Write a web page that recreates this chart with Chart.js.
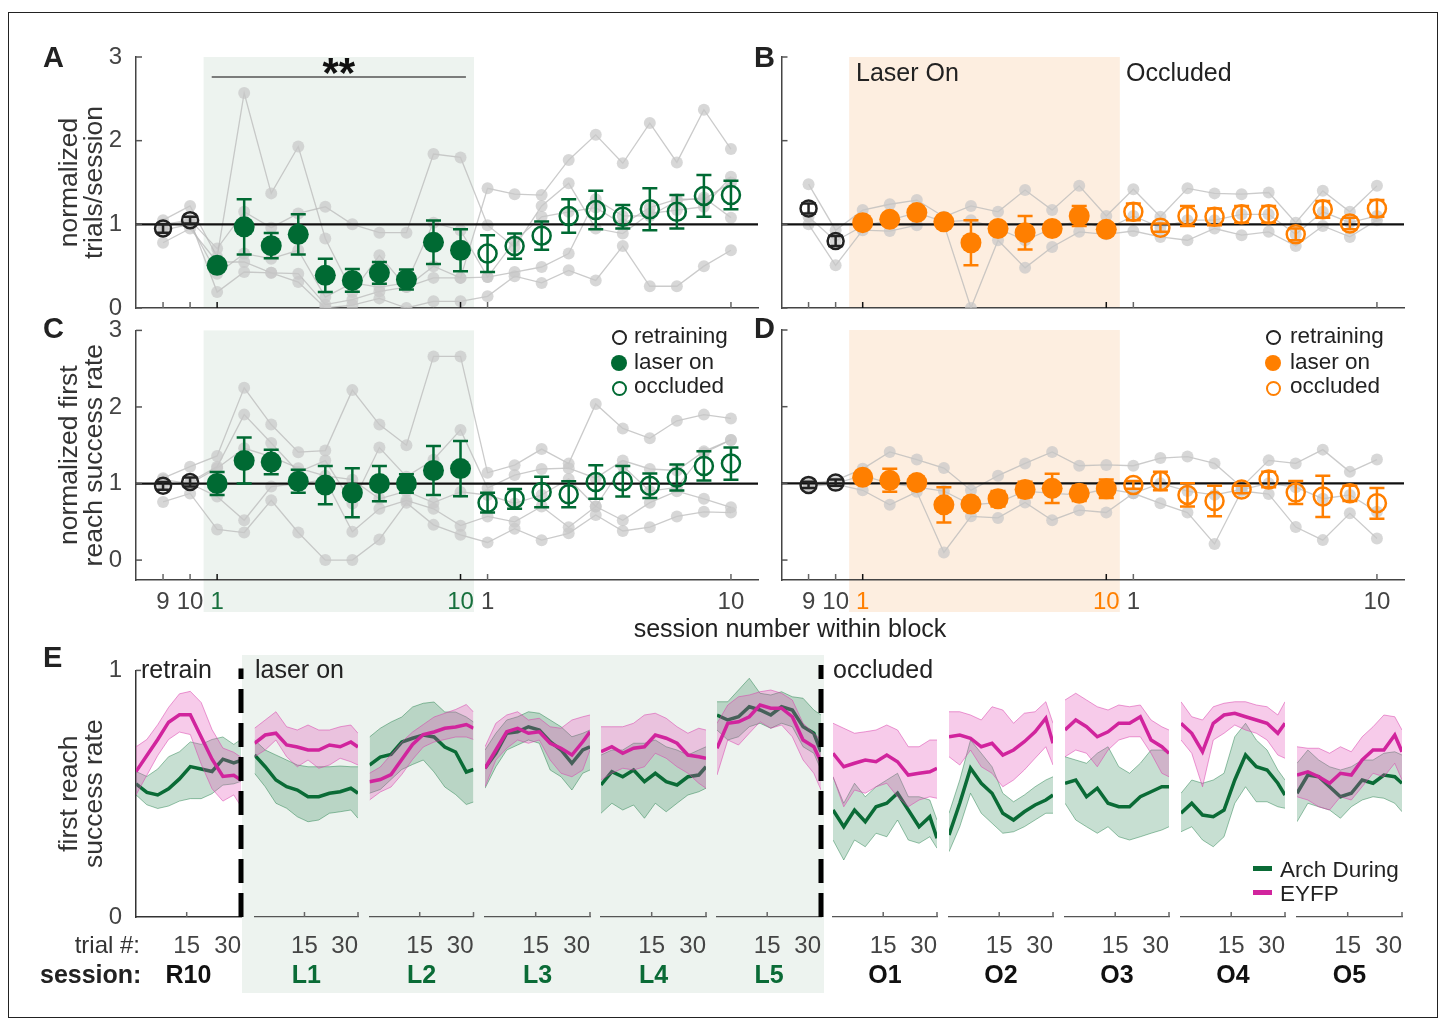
<!DOCTYPE html>
<html><head><meta charset="utf-8">
<script src="https://cdn.jsdelivr.net/npm/chart.js@4.4.1/dist/chart.umd.min.js"></script>
<style>
body{margin:0;background:#fff;width:1444px;height:1021px;overflow:hidden;position:relative;font-family:'Liberation Sans',Arial,Helvetica,sans-serif;}
canvas{position:absolute;}
.t{position:absolute;white-space:nowrap;line-height:1;color:#222;}
.b{font-weight:bold;}
.dot{position:absolute;border-radius:50%;}
</style></head><body>
<div style="position:absolute;left:8px;top:12px;width:1430px;height:1006px;border:1px solid #222;box-sizing:border-box"></div>
<div style="position:absolute;left:242px;top:655px;width:582px;height:338px;background:#edf3ef"></div>

<canvas id="cA"></canvas><canvas id="cB"></canvas><canvas id="cC"></canvas><canvas id="cD"></canvas>
<canvas id="e0"></canvas><canvas id="e1"></canvas><canvas id="e2"></canvas><canvas id="e3"></canvas>
<canvas id="e4"></canvas><canvas id="e5"></canvas><canvas id="e6"></canvas><canvas id="e7"></canvas>
<canvas id="e8"></canvas><canvas id="e9"></canvas><canvas id="e10"></canvas>

<div class="t b" style="left:43px;top:43px;font-size:29px">A</div>
<div class="t b" style="left:754px;top:43px;font-size:29px">B</div>
<div class="t b" style="left:43px;top:314px;font-size:29px">C</div>
<div class="t b" style="left:754px;top:314px;font-size:29px">D</div>
<div class="t b" style="left:43px;top:643px;font-size:29px">E</div>

<div class="t" style="left:856px;top:60px;font-size:25px">Laser On</div>
<div class="t" style="left:1126px;top:60px;font-size:25px">Occluded</div>
<div class="t" style="left:790px;top:616px;font-size:25px;transform:translateX(-50%)">session number within block</div>

<span class="dot" style="left:612px;top:330px;width:11px;height:11px;border:2px solid #222"></span>
<span class="dot" style="left:611px;top:355px;width:16px;height:16px;background:#006a33"></span>
<span class="dot" style="left:612px;top:381px;width:11px;height:11px;border:2px solid #006a33"></span>
<div class="t" style="left:634px;top:325px;font-size:22.5px">retraining</div>
<div class="t" style="left:634px;top:351px;font-size:22.5px">laser on</div>
<div class="t" style="left:634px;top:375px;font-size:22.5px">occluded</div>

<span class="dot" style="left:1266px;top:330px;width:11px;height:11px;border:2px solid #222"></span>
<span class="dot" style="left:1265px;top:355px;width:16px;height:16px;background:#ff7f00"></span>
<span class="dot" style="left:1266px;top:381px;width:11px;height:11px;border:2px solid #ff7f00"></span>
<div class="t" style="left:1290px;top:325px;font-size:22.5px">retraining</div>
<div class="t" style="left:1290px;top:351px;font-size:22.5px">laser on</div>
<div class="t" style="left:1290px;top:375px;font-size:22.5px">occluded</div>

<div class="t" style="left:141px;top:657px;font-size:25px">retrain</div>
<div class="t" style="left:255px;top:657px;font-size:25px">laser on</div>
<div class="t" style="left:833px;top:657px;font-size:25px">occluded</div>
<div class="t" style="right:1304px;top:933px;font-size:24px;color:#333">trial #:</div>
<div class="t b" style="left:40px;top:962px;font-size:25px">session:</div>

<div style="position:absolute;left:1253px;top:866px;width:19px;height:4.5px;background:#0a6b36"></div>
<div style="position:absolute;left:1253px;top:890px;width:19px;height:4.5px;background:#d1249d"></div>
<div class="t" style="left:1280px;top:859px;font-size:22.5px">Arch During</div>
<div class="t" style="left:1280px;top:883px;font-size:22.5px">EYFP</div>
<div id="err" class="t" style="left:300px;top:760px;font-size:14px;color:red;white-space:pre"></div>

<script>
// ---------------- DATA ----------------
const retrainPos = [0, 1];
const laserPos = [2, 3, 4, 5, 6, 7, 8, 9, 10, 11];
const occPos = [12, 13, 14, 15, 16, 17, 18, 19, 20, 21];
const allPos = retrainPos.concat(laserPos, occPos);
const xTickPos = [0, 1, 2, 11, 12, 21];
const xTickLabels = ['9', '10', '1', '10', '1', '10'];
const yTickVals = [0, 1, 2, 3];

// Panel A: normalized trials/session (Arch)
const A_retrain = [0.95, 1.05];
const A_retrainErr = [0.05, 0.04];
const A_laser = [0.51, 0.97, 0.745, 0.88, 0.39, 0.33, 0.42, 0.34, 0.785, 0.69];
const A_laserErr = [0.05, 0.33, 0.15, 0.24, 0.2, 0.135, 0.13, 0.12, 0.26, 0.25];
const A_occ = [0.65, 0.74, 0.865, 1.10, 1.17, 1.09, 1.18, 1.15, 1.34, 1.35];
const A_occErr = [0.22, 0.15, 0.17, 0.2, 0.23, 0.14, 0.25, 0.2, 0.25, 0.17];
const A_animal1 = [1.05, 1.22, 0.61, 2.57, 1.37, 1.93, 0.83, 0.19, 0.63, 0.25, 0.50, 0.36, 1.43, 1.36, 1.35, 1.77, 2.07, 1.73, 2.21, 1.74, 2.37, 1.90];
const A_animal2 = [0.97, 1.05, 0.71, 1.15, 0.96, 1.13, 1.21, 1.00, 0.90, 0.90, 1.84, 1.80, 0.99, 0.73, 1.22, 1.49, 0.95, 0.89, 1.13, 1.17, 1.21, 1.57];
const A_animal3 = [0.93, 1.00, 0.41, 0.65, 0.59, 0.69, 0.13, 0.30, 0.25, 0.30, 1.02, 0.93, 0.37, 0.80, 1.09, 1.15, 1.20, 1.00, 1.20, 1.30, 1.30, 1.50];
const A_animal4 = [0.78, 0.95, 0.55, 0.55, 0.42, 0.41, 0.04, 0.10, 0.20, 0.25, 0.36, 0.36, 0.37, 0.43, 0.49, 0.65, 1.30, 1.10, 1.10, 1.28, 1.32, 1.08];
const A_animal5 = [1.00, 1.05, 0.19, 0.43, 0.42, 0.31, 0.00, 0.035, 0.115, 0.00, 0.08, 0.08, 0.14, 0.38, 0.30, 0.45, 0.33, 0.74, 0.26, 0.26, 0.50, 0.69];

// Panel B: normalized trials/session (EYFP)
const B_retrain = [1.19, 0.80];
const B_retrainErr = [0.06, 0.06];
const B_laser = [1.02, 1.06, 1.14, 1.03, 0.78, 0.95, 0.90, 0.95, 1.10, 0.94];
const B_laserErr = [0.03, 0.03, 0.03, 0.03, 0.27, 0.04, 0.2, 0.05, 0.12, 0.04];
const B_occ = [1.15, 0.96, 1.10, 1.09, 1.12, 1.12, 0.88, 1.18, 1.01, 1.19];
const B_occErr = [0.1, 0.05, 0.12, 0.1, 0.1, 0.1, 0.07, 0.1, 0.07, 0.1];
const B_animal1 = [1.48, 0.93, 1.17, 1.24, 1.29, 1.09, 1.22, 1.15, 1.41, 1.17, 1.46, 1.10, 1.42, 1.09, 1.43, 1.37, 1.36, 1.38, 1.02, 1.40, 1.15, 1.46];
const B_animal2 = [1.09, 0.80, 0.98, 1.05, 1.14, 1.03, 1.05, 0.95, 0.81, 0.95, 1.05, 0.94, 1.10, 0.96, 1.05, 1.05, 1.12, 1.12, 0.88, 1.15, 1.02, 1.10];
const B_animal3 = [1.00, 0.51, 0.93, 0.92, 0.99, 1.00, 0.00, 0.81, 0.48, 0.73, 0.91, 0.88, 0.92, 0.85, 0.81, 0.95, 0.87, 0.91, 0.74, 0.98, 0.85, 1.05];

// Panel C: normalized first reach success rate (Arch)
const C_retrain = [0.97, 1.02];
const C_retrainErr = [0.05, 0.06];
const C_laser = [1.0, 1.30, 1.28, 1.03, 0.98, 0.88, 1.0, 1.0, 1.17, 1.195];
const C_laserErr = [0.15, 0.3, 0.16, 0.15, 0.25, 0.32, 0.23, 0.12, 0.32, 0.36];
const C_occ = [0.75, 0.80, 0.89, 0.86, 1.02, 1.03, 0.97, 1.08, 1.23, 1.26];
const C_occErr = [0.13, 0.13, 0.2, 0.17, 0.22, 0.2, 0.16, 0.17, 0.19, 0.21];
const C_animal1 = [1.07, 1.22, 1.36, 2.25, 1.77, 1.41, 1.43, 2.22, 1.77, 1.50, 2.66, 2.66, 1.14, 1.24, 1.45, 1.26, 2.04, 1.72, 1.59, 1.82, 1.90, 1.85];
const C_animal2 = [0.97, 1.02, 1.22, 1.90, 1.53, 1.15, 1.30, 0.74, 1.47, 1.09, 1.31, 1.70, 0.94, 1.11, 1.19, 1.20, 1.07, 1.30, 1.19, 1.17, 1.42, 1.57];
const C_animal3 = [1.05, 1.00, 1.20, 1.46, 1.35, 1.20, 1.10, 1.05, 0.80, 0.90, 0.75, 0.89, 0.85, 0.74, 0.85, 1.06, 0.70, 1.23, 0.90, 0.95, 1.40, 1.57];
const C_animal4 = [1.00, 1.00, 0.83, 0.52, 0.96, 1.00, 1.05, 0.37, 0.67, 0.78, 0.67, 0.45, 0.57, 0.50, 0.70, 0.43, 0.70, 0.52, 0.75, 0.90, 0.80, 0.69];
const C_animal5 = [0.76, 0.87, 0.40, 0.36, 0.78, 0.36, 0.00, 0.00, 0.27, 0.75, 0.46, 0.33, 0.23, 0.41, 0.26, 0.35, 0.59, 0.38, 0.43, 0.57, 0.63, 0.62];

// Panel D: normalized first reach success rate (EYFP)
const D_retrain = [0.98, 1.01];
const D_retrainErr = [0.04, 0.04];
const D_laser = [1.08, 1.04, 1.01, 0.72, 0.73, 0.80, 0.92, 0.935, 0.87, 0.93];
const D_laserErr = [0.04, 0.15, 0.08, 0.23, 0.08, 0.1, 0.1, 0.19, 0.1, 0.12];
const D_occ = [0.98, 1.03, 0.85, 0.77, 0.92, 1.05, 0.88, 0.83, 0.87, 0.74];
const D_occErr = [0.05, 0.12, 0.15, 0.2, 0.05, 0.1, 0.15, 0.27, 0.1, 0.2];
const D_animal1 = [1.00, 1.04, 1.19, 1.41, 1.31, 1.20, 0.91, 1.10, 1.26, 1.41, 1.23, 1.24, 1.23, 1.33, 1.35, 1.26, 0.95, 1.30, 1.26, 1.44, 1.15, 1.31];
const D_animal2 = [0.98, 1.00, 1.10, 1.00, 0.95, 0.90, 0.72, 0.75, 0.90, 0.87, 0.85, 0.93, 0.87, 1.00, 0.90, 0.85, 0.92, 1.00, 0.95, 0.80, 0.85, 0.63];
const D_animal3 = [0.96, 0.99, 0.91, 0.72, 0.89, 0.10, 0.57, 0.55, 0.75, 0.52, 0.65, 0.62, 0.87, 0.74, 0.62, 0.21, 0.90, 0.86, 0.43, 0.26, 0.61, 0.28];

// Panel E: first reach success rate within session
const sessions = ['R10', 'L1', 'L2', 'L3', 'L4', 'L5', 'O1', 'O2', 'O3', 'O4', 'O5'];
const trialPos = [1, 4, 7, 10, 13, 16, 19, 22, 25, 28, 30];
const eTickVals = [1, 15, 30];
const eTickLabels = ['', '15', '30'];
const archMean = [
 [0.54, 0.505, 0.495, 0.52, 0.56, 0.61, 0.60, 0.59, 0.64, 0.625, 0.635],
 [0.648, 0.601, 0.548, 0.521, 0.508, 0.481, 0.481, 0.495, 0.501, 0.515, 0.495],
 [0.608, 0.64, 0.65, 0.70, 0.715, 0.728, 0.72, 0.68, 0.66, 0.58, 0.59],
 [0.595, 0.655, 0.735, 0.741, 0.761, 0.748, 0.701, 0.668, 0.615, 0.668, 0.681],
 [0.528, 0.581, 0.561, 0.588, 0.541, 0.575, 0.541, 0.528, 0.561, 0.568, 0.601],
 [0.808, 0.788, 0.801, 0.841, 0.828, 0.808, 0.841, 0.828, 0.761, 0.735, 0.661],
 [0.428, 0.361, 0.428, 0.381, 0.441, 0.455, 0.495, 0.428, 0.361, 0.401, 0.315],
 [0.328, 0.455, 0.595, 0.535, 0.495, 0.415, 0.388, 0.421, 0.448, 0.468, 0.488],
 [0.535, 0.548, 0.481, 0.515, 0.455, 0.441, 0.441, 0.481, 0.501, 0.521, 0.521],
 [0.415, 0.455, 0.408, 0.401, 0.428, 0.548, 0.648, 0.601, 0.588, 0.535, 0.488],
 [0.495, 0.568, 0.561, 0.521, 0.481, 0.495, 0.548, 0.535, 0.568, 0.561, 0.535]
];
const archHi = [
 [0.59, 0.57, 0.60, 0.65, 0.67, 0.71, 0.70, 0.72, 0.73, 0.70, 0.72],
 [0.708, 0.668, 0.648, 0.628, 0.608, 0.601, 0.601, 0.601, 0.604, 0.601, 0.601],
 [0.72, 0.755, 0.78, 0.80, 0.84, 0.855, 0.86, 0.82, 0.82, 0.80, 0.78],
 [0.668, 0.735, 0.788, 0.801, 0.821, 0.815, 0.788, 0.761, 0.721, 0.735, 0.748],
 [0.648, 0.668, 0.668, 0.695, 0.695, 0.708, 0.681, 0.668, 0.648, 0.668, 0.681],
 [0.861, 0.861, 0.908, 0.955, 0.895, 0.888, 0.901, 0.881, 0.875, 0.828, 0.808],
 [0.561, 0.455, 0.535, 0.481, 0.521, 0.548, 0.575, 0.481, 0.481, 0.468, 0.388],
 [0.415, 0.548, 0.708, 0.655, 0.601, 0.495, 0.461, 0.488, 0.521, 0.548, 0.561],
 [0.641, 0.628, 0.615, 0.655, 0.681, 0.601, 0.575, 0.615, 0.668, 0.668, 0.655],
 [0.495, 0.548, 0.535, 0.548, 0.575, 0.721, 0.775, 0.708, 0.668, 0.588, 0.548],
 [0.615, 0.668, 0.628, 0.601, 0.588, 0.601, 0.628, 0.628, 0.655, 0.661, 0.648]
];
const archLo = [
 [0.495, 0.455, 0.44, 0.45, 0.47, 0.48, 0.48, 0.50, 0.535, 0.54, 0.55],
 [0.575, 0.521, 0.455, 0.435, 0.401, 0.381, 0.388, 0.415, 0.421, 0.428, 0.395],
 [0.495, 0.51, 0.55, 0.59, 0.61, 0.628, 0.58, 0.52, 0.49, 0.45, 0.46],
 [0.515, 0.601, 0.668, 0.688, 0.708, 0.695, 0.588, 0.561, 0.508, 0.575, 0.588],
 [0.415, 0.455, 0.428, 0.448, 0.395, 0.455, 0.421, 0.455, 0.488, 0.501, 0.515],
 [0.748, 0.708, 0.721, 0.761, 0.775, 0.755, 0.775, 0.761, 0.681, 0.655, 0.588],
 [0.308, 0.228, 0.308, 0.281, 0.335, 0.321, 0.388, 0.308, 0.295, 0.321, 0.275],
 [0.261, 0.361, 0.495, 0.415, 0.375, 0.335, 0.341, 0.361, 0.388, 0.415, 0.415],
 [0.455, 0.388, 0.361, 0.335, 0.361, 0.321, 0.308, 0.321, 0.335, 0.348, 0.361],
 [0.341, 0.361, 0.308, 0.281, 0.321, 0.455, 0.521, 0.461, 0.461, 0.441, 0.435],
 [0.381, 0.455, 0.441, 0.428, 0.395, 0.441, 0.468, 0.481, 0.475, 0.455, 0.421]
];
const eyfpMean = [
 [0.59, 0.655, 0.72, 0.79, 0.82, 0.82, 0.73, 0.64, 0.57, 0.575, 0.555],
 [0.695, 0.728, 0.735, 0.688, 0.68, 0.668, 0.668, 0.688, 0.681, 0.70, 0.68],
 [0.541, 0.55, 0.57, 0.63, 0.69, 0.73, 0.74, 0.755, 0.76, 0.77, 0.755],
 [0.595, 0.668, 0.741, 0.755, 0.735, 0.741, 0.695, 0.675, 0.648, 0.701, 0.741],
 [0.661, 0.681, 0.655, 0.675, 0.681, 0.728, 0.715, 0.695, 0.648, 0.641, 0.635],
 [0.675, 0.775, 0.781, 0.801, 0.848, 0.835, 0.835, 0.801, 0.708, 0.681, 0.621],
 [0.655, 0.601, 0.615, 0.628, 0.621, 0.648, 0.621, 0.568, 0.575, 0.581, 0.595],
 [0.721, 0.728, 0.715, 0.681, 0.695, 0.648, 0.668, 0.701, 0.741, 0.795, 0.695],
 [0.748, 0.788, 0.761, 0.721, 0.741, 0.775, 0.775, 0.801, 0.708, 0.681, 0.655],
 [0.775, 0.735, 0.661, 0.775, 0.808, 0.815, 0.801, 0.788, 0.775, 0.735, 0.775],
 [0.568, 0.581, 0.561, 0.535, 0.575, 0.568, 0.628, 0.668, 0.668, 0.728, 0.661]
];
const eyfpHi = [
 [0.69, 0.72, 0.78, 0.85, 0.905, 0.915, 0.87, 0.76, 0.685, 0.668, 0.648],
 [0.755, 0.788, 0.821, 0.761, 0.748, 0.768, 0.748, 0.748, 0.761, 0.768, 0.735],
 [0.575, 0.60, 0.65, 0.70, 0.74, 0.77, 0.80, 0.815, 0.83, 0.85, 0.82],
 [0.681, 0.775, 0.808, 0.821, 0.788, 0.795, 0.761, 0.755, 0.788, 0.801, 0.808],
 [0.761, 0.761, 0.761, 0.775, 0.808, 0.815, 0.795, 0.761, 0.735, 0.755, 0.748],
 [0.775, 0.848, 0.881, 0.888, 0.901, 0.908, 0.895, 0.868, 0.775, 0.735, 0.708],
 [0.775, 0.755, 0.735, 0.741, 0.748, 0.768, 0.748, 0.681, 0.681, 0.708, 0.708],
 [0.821, 0.821, 0.808, 0.788, 0.841, 0.828, 0.775, 0.815, 0.821, 0.861, 0.775],
 [0.868, 0.895, 0.868, 0.841, 0.828, 0.848, 0.841, 0.848, 0.788, 0.761, 0.748],
 [0.861, 0.801, 0.788, 0.841, 0.855, 0.861, 0.861, 0.848, 0.841, 0.808, 0.861],
 [0.681, 0.675, 0.675, 0.655, 0.681, 0.661, 0.721, 0.761, 0.808, 0.801, 0.748]
];
const eyfpLo = [
 [0.495, 0.575, 0.655, 0.72, 0.75, 0.74, 0.62, 0.52, 0.47, 0.495, 0.448],
 [0.641, 0.668, 0.708, 0.641, 0.601, 0.628, 0.595, 0.608, 0.635, 0.621, 0.608],
 [0.468, 0.50, 0.52, 0.57, 0.63, 0.68, 0.70, 0.71, 0.72, 0.72, 0.71],
 [0.521, 0.628, 0.675, 0.708, 0.695, 0.708, 0.628, 0.575, 0.561, 0.588, 0.668],
 [0.548, 0.575, 0.595, 0.588, 0.601, 0.655, 0.635, 0.601, 0.575, 0.535, 0.515],
 [0.568, 0.708, 0.688, 0.735, 0.781, 0.755, 0.768, 0.721, 0.628, 0.575, 0.508],
 [0.561, 0.441, 0.508, 0.495, 0.521, 0.535, 0.481, 0.441, 0.468, 0.481, 0.475],
 [0.641, 0.608, 0.668, 0.601, 0.575, 0.521, 0.548, 0.588, 0.635, 0.681, 0.608],
 [0.641, 0.668, 0.655, 0.601, 0.668, 0.708, 0.721, 0.721, 0.655, 0.575, 0.561],
 [0.708, 0.655, 0.521, 0.708, 0.735, 0.768, 0.748, 0.735, 0.708, 0.648, 0.635],
 [0.481, 0.468, 0.441, 0.428, 0.481, 0.468, 0.521, 0.575, 0.561, 0.615, 0.548]
];

// ---------------- STYLE / LAYOUT ----------------
const FONT = "'Liberation Sans', Arial, Helvetica, sans-serif";
const GREEN = '#006a33', ORANGE = '#ff7f00';
Chart.defaults.font.family = FONT;
Chart.defaults.color = '#333';

const decor = {
  id: 'decor',
  beforeDraw(chart, args, o) {
    if (!o || !o.shade) return;
    const {ctx, chartArea: ca, scales} = chart;
    const x0 = scales.x.getPixelForValue(o.shade.from), x1 = scales.x.getPixelForValue(o.shade.to);
    ctx.save(); ctx.fillStyle = o.shade.color;
    ctx.fillRect(x0, ca.top, x1 - x0, ca.bottom - ca.top + (o.shade.below || 0));
    ctx.restore();
  },
  beforeDatasetDraw(chart, args) {
    const ds = chart.data.datasets[args.index];
    if (!ds.errs) return;
    const {ctx, scales: {x, y}} = chart;
    ctx.save(); ctx.strokeStyle = ds.errColor; ctx.lineWidth = 2.5;
    ds.data.forEach((p, i) => {
      const e = ds.errs[i], px = x.getPixelForValue(p.x);
      const yt = y.getPixelForValue(p.y + e), yb = y.getPixelForValue(p.y - e);
      ctx.beginPath();
      ctx.moveTo(px, yt); ctx.lineTo(px, yb);
      ctx.moveTo(px - 7.5, yt); ctx.lineTo(px + 7.5, yt);
      ctx.moveTo(px - 7.5, yb); ctx.lineTo(px + 7.5, yb);
      ctx.stroke();
    });
    ctx.restore();
  },
  afterDraw(chart, args, o) {
    if (!o) return;
    const {ctx, chartArea: ca, scales: {x, y}} = chart;
    ctx.save();
    const L = o.tickLen || 6;
    if (o.xTicks) o.xTicks.forEach(v => {
      const px = x.getPixelForValue(v);
      ctx.strokeStyle = (o.darkX && o.darkX.includes(v)) ? '#111' : '#666';
      ctx.lineWidth = 1.5;
      ctx.beginPath(); ctx.moveTo(px, ca.bottom); ctx.lineTo(px, ca.bottom - L); ctx.stroke();
    });
    if (o.yTicks) o.yTicks.forEach(v => {
      const py = y.getPixelForValue(v);
      ctx.strokeStyle = '#555'; ctx.lineWidth = 1.5;
      ctx.beginPath(); ctx.moveTo(ca.left, py); ctx.lineTo(ca.left + L, py); ctx.stroke();
    });
    if (o.sig) {
      const x0 = x.getPixelForValue(o.sig.from), x1 = x.getPixelForValue(o.sig.to), py = y.getPixelForValue(o.sig.y);
      ctx.strokeStyle = '#555'; ctx.lineWidth = 1.5;
      ctx.beginPath(); ctx.moveTo(x0, py); ctx.lineTo(x1, py); ctx.stroke();
      ctx.fillStyle = '#111'; ctx.font = 'bold 42px ' + FONT; ctx.textAlign = 'center'; ctx.textBaseline = 'alphabetic';
      ctx.fillText(o.sig.text, (x0 + x1) / 2, py + 10);
    }
    if (o.dash) {
      ctx.strokeStyle = '#000'; ctx.lineWidth = 5; ctx.setLineDash([24, 10]);
      ctx.beginPath(); ctx.moveTo(ca.right, ca.bottom); ctx.lineTo(ca.right, ca.top - 2); ctx.stroke();
    }
    ctx.restore();
  }
};
Chart.register(decor);

function place(cv, left, top, w, h) {
  cv.width = w; cv.height = h;
  cv.style.left = left + 'px'; cv.style.top = top + 'px';
  cv.style.width = w + 'px'; cv.style.height = h + 'px';
}
const pts = (xs, ys) => xs.map((x, i) => ({x, y: ys[i]}));

function makePanel(id, P) {
  const cv = document.getElementById(id);
  place(cv, P.left, P.top, P.w, P.h);
  const ds = [];
  P.animals.forEach(a => ds.push({data: pts(allPos, a), showLine: true, borderColor: 'rgba(185,185,185,0.75)',
    borderWidth: 1.3, pointRadius: 6, pointBackgroundColor: 'rgba(200,200,200,0.72)', pointBorderWidth: 0, order: 10}));
  ds.push({data: [{x: -1, y: 1}, {x: 22, y: 1}], showLine: true, borderColor: '#111', borderWidth: 2.2, pointRadius: 0, order: 8});
  ds.push({data: pts(retrainPos, P.retrain), errs: P.retrainErr, errColor: '#222', pointRadius: 8,
    pointBackgroundColor: 'rgba(0,0,0,0)', pointBorderColor: '#222', pointBorderWidth: 2.5, order: 3});
  ds.push({data: pts(laserPos, P.laser), errs: P.laserErr, errColor: P.color, pointRadius: 10.5,
    pointBackgroundColor: P.color, pointBorderColor: P.color, pointBorderWidth: 0, order: 2});
  ds.push({data: pts(occPos, P.occ), errs: P.occErr, errColor: P.color, pointRadius: 9,
    pointBackgroundColor: 'rgba(0,0,0,0)', pointBorderColor: P.color, pointBorderWidth: 2.5, order: 1});
  new Chart(cv, {
    type: 'scatter', data: {datasets: ds},
    options: {
      responsive: false, animation: false, devicePixelRatio: 1, events: [],
      layout: {padding: {left: 0, top: P.padT, right: P.padR, bottom: 0}},
      plugins: {legend: {display: false}, tooltip: {enabled: false},
        decor: {shade: {from: 1.5, to: 11.5, color: P.shade, below: P.shadeBelow}, xTicks: xTickPos, darkX: [2, 11], yTicks: yTickVals, tickLen: 6, sig: P.sig}},
      scales: {
        x: {type: 'linear', min: -1, max: 22,
          afterBuildTicks: s => { s.ticks = xTickPos.map(v => ({value: v})); },
          afterFit: s => { s.height = P.xH; },
          grid: {display: false}, border: {display: true, color: '#444', width: 1.5},
          ticks: {display: P.xLabels, autoSkip: false, maxRotation: 0, minRotation: 0, padding: 0, font: {size: 24},
            color: c => (c.tick && c.tick.value >= 2 && c.tick.value <= 11) ? P.tickAccent : '#444',
            callback: v => xTickLabels[xTickPos.indexOf(v)]}},
        y: {type: 'linear', min: P.yMin, max: 3,
          afterBuildTicks: s => { s.ticks = yTickVals.map(v => ({value: v})); },
          afterFit: s => { s.width = P.yW; },
          grid: {display: false}, border: {display: true, color: '#444', width: 1.5},
          ticks: {display: P.yLabels, padding: 6, font: {size: 24}, color: '#444'},
          title: {display: !!P.yTitle, text: P.yTitle || '', color: '#333', font: {size: 26.5, lineHeight: 0.95}, padding: {top: 57, bottom: 0}}}
      }
    }
  });
}

const errs = [];
function guard(f) { try { f(); } catch (e) { errs.push(String(e && e.stack || e)); } }

guard(() => makePanel('cA', {left: 0, top: 35, w: 770, h: 295, padT: 22, padR: 12, xH: 22, yW: 136, yMin: 0,
  animals: [A_animal1, A_animal2, A_animal3, A_animal4, A_animal5],
  retrain: A_retrain, retrainErr: A_retrainErr, laser: A_laser, laserErr: A_laserErr, occ: A_occ, occErr: A_occErr,
  color: GREEN, tickAccent: '#17703d', shade: '#edf3ef', shadeBelow: 0, xLabels: false, yLabels: true,
  yTitle: ['normalized', 'trials/session'], sig: {from: 1.8, to: 11.2, y: 2.76, text: '**'}}));
guard(() => makePanel('cB', {left: 770, top: 35, w: 660, h: 295, padT: 22, padR: 26, xH: 22, yW: 10, yMin: 0,
  animals: [B_animal1, B_animal2, B_animal3],
  retrain: B_retrain, retrainErr: B_retrainErr, laser: B_laser, laserErr: B_laserErr, occ: B_occ, occErr: B_occErr,
  color: ORANGE, tickAccent: ORANGE, shade: '#fdeee0', shadeBelow: 0, xLabels: false, yLabels: false, yTitle: null}));
guard(() => makePanel('cC', {left: 0, top: 310, w: 770, h: 320, padT: 20, padR: 12, xH: 50, yW: 136, yMin: -0.26,
  animals: [C_animal1, C_animal2, C_animal3, C_animal4, C_animal5],
  retrain: C_retrain, retrainErr: C_retrainErr, laser: C_laser, laserErr: C_laserErr, occ: C_occ, occErr: C_occErr,
  color: GREEN, tickAccent: '#17703d', shade: '#edf3ef', shadeBelow: 32, xLabels: true, yLabels: true,
  yTitle: ['normalized first', 'reach success rate']}));
guard(() => makePanel('cD', {left: 770, top: 310, w: 660, h: 320, padT: 20, padR: 26, xH: 50, yW: 10, yMin: -0.26,
  animals: [D_animal1, D_animal2, D_animal3],
  retrain: D_retrain, retrainErr: D_retrainErr, laser: D_laser, laserErr: D_laserErr, occ: D_occ, occErr: D_occErr,
  color: ORANGE, tickAccent: ORANGE, shade: '#fdeee0', shadeBelow: 32, xLabels: true, yLabels: false, yTitle: null}));

// Panel E
const eLefts = [136, 254.5, 369.5, 485, 601, 717, 833, 949, 1065, 1181, 1297];
const eWidths = [105, 103.5, 104, 105, 105, 104, 104, 104, 104, 104, 105];
const eTop = 650, eH = 350, ePadT = 17, eAreaH = 250;

function makeSession(k) {
  const isR = k === 0;
  const cv = document.getElementById('e' + k);
  const L = eLefts[k], W = eWidths[k];
  const cLeft = isR ? 0 : Math.floor(L) - 20;
  const yW = L - cLeft;
  const cW = Math.ceil(L + W - cLeft) + 20;
  const padR = cW - (L + W - cLeft);
  place(cv, cLeft, eTop, cW, eH);
  const name = sessions[k];
  const labColor = name.charAt(0) === 'L' ? '#0a6b36' : '#111';
  const ds = [
    {data: pts(trialPos, archHi[k]), fill: '+1', backgroundColor: 'rgba(0,110,50,0.22)', borderColor: 'rgba(0,110,50,0.4)', borderWidth: 1, pointRadius: 0, order: 4},
    {data: pts(trialPos, archLo[k]), fill: false, borderColor: 'rgba(0,110,50,0.4)', borderWidth: 1, pointRadius: 0, order: 4},
    {data: pts(trialPos, archMean[k]), fill: false, borderColor: '#0a6b36', borderWidth: 3.5, pointRadius: 0, order: 3},
    {data: pts(trialPos, eyfpHi[k]), fill: '+1', backgroundColor: 'rgba(225,70,180,0.28)', borderColor: 'rgba(215,60,170,0.5)', borderWidth: 1, pointRadius: 0, order: 2},
    {data: pts(trialPos, eyfpLo[k]), fill: false, borderColor: 'rgba(215,60,170,0.5)', borderWidth: 1, pointRadius: 0, order: 2},
    {data: pts(trialPos, eyfpMean[k]), fill: false, borderColor: '#d1249d', borderWidth: 3.5, pointRadius: 0, order: 1}
  ];
  new Chart(cv, {
    type: 'line', data: {datasets: ds},
    options: {
      responsive: false, animation: false, devicePixelRatio: 1, events: [],
      layout: {padding: {left: 0, top: ePadT, right: padR, bottom: 0}},
      elements: {line: {tension: 0}},
      plugins: {legend: {display: false}, tooltip: {enabled: false},
        decor: {xTicks: [15, 30], tickLen: 5, yTicks: isR ? [1] : null, dash: (k === 0 || k === 5)}},
      scales: {
        x: {type: 'linear', min: 1, max: 30,
          afterBuildTicks: s => { s.ticks = eTickVals.map(v => ({value: v})); },
          afterFit: s => { s.height = eH - ePadT - eAreaH; },
          grid: {display: false}, border: {display: true, color: isR ? '#333' : '#555', width: isR ? 1.5 : 1.3},
          ticks: {align: 'inner', autoSkip: false, maxRotation: 0, minRotation: 0, padding: 7, font: {size: 24}, color: '#444',
            callback: v => eTickLabels[eTickVals.indexOf(v)]},
          title: {display: true, text: name, color: labColor, font: {size: 25, weight: 'bold', lineHeight: 1.2}, padding: {top: 0, bottom: 9}}},
        y: {type: 'linear', min: 0, max: 1, display: true,
          afterBuildTicks: s => { s.ticks = [0, 1].map(v => ({value: v})); },
          afterFit: s => { s.width = yW; },
          grid: {display: false}, border: {display: isR, color: '#333', width: 1.5},
          ticks: {display: isR, padding: 6, font: {size: 24}, color: '#444'},
          title: {display: isR, text: ['first reach', 'success rate'], color: '#333', font: {size: 26.5, lineHeight: 0.95}, padding: {top: 57, bottom: 0}}}
      }
    }
  });
}
for (let k = 0; k < sessions.length; k++) guard(() => makeSession(k));
if (errs.length) document.getElementById('err').textContent = errs.join('\n').slice(0, 1500);
</script>
</body></html>
